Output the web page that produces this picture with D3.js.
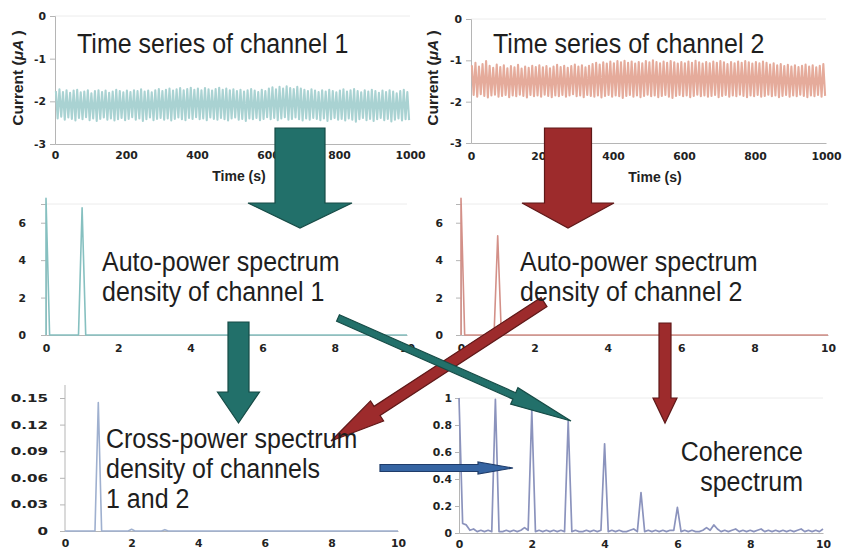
<!DOCTYPE html>
<html>
<head>
<meta charset="utf-8">
<script src="https://cdn.jsdelivr.net/npm/d3@7"></script>
<style>
  html, body { margin: 0; padding: 0; background: #fff; }
  svg { display: block; }
</style>
</head>
<body>
<svg id="fig" width="843" height="552"></svg>
<script>
// ---- Data -------------------------------------------------------------
// Time series: alternating crest / trough current values (µA), one pair per 10 s.
const ch1Top = [-1.76,-1.72,-1.78,-1.74,-1.80,-1.75,-1.73,-1.79,-1.77,-1.74,
  -1.81,-1.76,-1.74,-1.78,-1.75,-1.80,-1.77,-1.73,-1.76,-1.79,
  -1.75,-1.78,-1.74,-1.76,-1.72,-1.77,-1.75,-1.79,-1.74,-1.71,
  -1.76,-1.73,-1.70,-1.75,-1.72,-1.69,-1.74,-1.71,-1.68,-1.73,
  -1.70,-1.74,-1.69,-1.72,-1.75,-1.71,-1.68,-1.73,-1.70,-1.74,
  -1.72,-1.76,-1.73,-1.77,-1.74,-1.71,-1.75,-1.78,-1.73,-1.76,
  -1.70,-1.67,-1.72,-1.66,-1.70,-1.65,-1.69,-1.71,-1.66,-1.70,
  -1.73,-1.76,-1.72,-1.75,-1.78,-1.74,-1.77,-1.73,-1.76,-1.79,
  -1.75,-1.72,-1.77,-1.74,-1.71,-1.76,-1.79,-1.74,-1.77,-1.73,
  -1.76,-1.80,-1.75,-1.78,-1.74,-1.77,-1.81,-1.76,-1.73,-1.78];
const ch1Bot = [-2.40,-2.36,-2.43,-2.38,-2.41,-2.45,-2.39,-2.42,-2.37,-2.44,
  -2.40,-2.46,-2.41,-2.38,-2.43,-2.40,-2.45,-2.42,-2.39,-2.44,
  -2.41,-2.37,-2.43,-2.40,-2.46,-2.42,-2.38,-2.44,-2.41,-2.39,
  -2.43,-2.40,-2.45,-2.41,-2.38,-2.42,-2.44,-2.39,-2.41,-2.37,
  -2.42,-2.40,-2.44,-2.38,-2.41,-2.43,-2.39,-2.42,-2.45,-2.40,
  -2.38,-2.43,-2.41,-2.46,-2.40,-2.42,-2.39,-2.44,-2.41,-2.37,
  -2.42,-2.39,-2.44,-2.40,-2.37,-2.43,-2.41,-2.38,-2.42,-2.45,
  -2.40,-2.43,-2.39,-2.41,-2.44,-2.40,-2.46,-2.42,-2.39,-2.43,
  -2.41,-2.45,-2.40,-2.43,-2.48,-2.42,-2.39,-2.44,-2.41,-2.46,
  -2.42,-2.39,-2.44,-2.41,-2.47,-2.43,-2.40,-2.45,-2.42,-2.44];
const ch2Top = [-1.12,-1.06,-1.15,-1.09,-1.02,-1.13,-1.18,-1.10,-1.16,-1.12,
  -1.19,-1.14,-1.17,-1.11,-1.20,-1.15,-1.18,-1.13,-1.16,-1.12,
  -1.17,-1.14,-1.19,-1.15,-1.11,-1.16,-1.13,-1.18,-1.14,-1.10,
  -1.15,-1.12,-1.17,-1.13,-1.09,-1.06,-1.10,-1.05,-1.08,-1.03,
  -1.07,-1.02,-1.05,-1.01,-1.06,-1.03,-1.08,-1.04,-1.07,-1.02,
  -1.05,-1.00,-1.04,-1.07,-1.03,-1.06,-1.02,-1.05,-1.08,-1.04,
  -1.07,-1.03,-1.06,-1.01,-1.05,-1.08,-1.04,-1.07,-1.03,-1.06,
  -1.02,-1.05,-1.09,-1.04,-1.07,-1.03,-1.06,-1.02,-1.05,-1.08,
  -1.04,-1.07,-1.03,-1.06,-1.10,-1.07,-1.12,-1.09,-1.14,-1.11,
  -1.15,-1.12,-1.16,-1.13,-1.10,-1.15,-1.12,-1.17,-1.13,-1.09];
const ch2Bot = [-1.84,-1.88,-1.82,-1.86,-1.90,-1.85,-1.83,-1.88,-1.86,-1.84,
  -1.89,-1.85,-1.87,-1.83,-1.86,-1.90,-1.84,-1.87,-1.85,-1.88,
  -1.83,-1.86,-1.89,-1.85,-1.87,-1.84,-1.88,-1.85,-1.82,-1.87,
  -1.85,-1.89,-1.84,-1.86,-1.88,-1.85,-1.90,-1.86,-1.84,-1.88,
  -1.85,-1.87,-1.91,-1.86,-1.84,-1.88,-1.85,-1.89,-1.86,-1.83,
  -1.87,-1.85,-1.89,-1.86,-1.84,-1.88,-1.91,-1.86,-1.84,-1.87,
  -1.85,-1.89,-1.86,-1.83,-1.87,-1.85,-1.88,-1.86,-1.84,-1.89,
  -1.86,-1.84,-1.88,-1.85,-1.87,-1.83,-1.86,-1.89,-1.85,-1.87,
  -1.84,-1.88,-1.86,-1.83,-1.87,-1.85,-1.89,-1.86,-1.84,-1.88,
  -1.85,-1.87,-1.83,-1.86,-1.89,-1.85,-1.87,-1.84,-1.88,-1.86];

// Auto-power spectra (breakpoints: frequency in Hz, density)
const psd1Freq = [0, 0, 0.1, 0.9, 1.0, 1.1, 10];
const psd1Val  = [0, 7.3, 0, 0, 6.8, 0, 0];
const psd2Freq = [0, 0, 0.1, 0.9, 1.0, 1.1, 10];
const psd2Val  = [0, 7.3, 0, 0, 5.3, 0, 0];

// Cross-power spectrum (breakpoints)
const cpsdFreq = [0, 0.9, 1.0, 1.1, 1.9, 2.0, 2.1, 2.9, 3.0, 3.1, 10];
const cpsdVal  = [0, 0, 0.145, 0, 0, 0.002, 0, 0, 0.0015, 0, 0];

// Coherence, sampled every 0.1 Hz from 0 to 10 Hz
const cohVal = [1.00,0.07,0.06,0.02,0.03,0.01,0.02,0.01,0.02,0.01,
  0.99,0.01,0.01,0.02,0.01,0.02,0.01,0.02,0.04,0.02,
  0.91,0.01,0.02,0.01,0.02,0.01,0.02,0.01,0.02,0.01,
  0.83,0.01,0.02,0.01,0.01,0.02,0.01,0.02,0.01,0.02,
  0.66,0.01,0.02,0.01,0.02,0.01,0.01,0.02,0.03,0.01,
  0.30,0.01,0.02,0.01,0.02,0.01,0.02,0.01,0.02,0.02,
  0.19,0.01,0.02,0.01,0.02,0.01,0.01,0.02,0.04,0.02,
  0.06,0.03,0.01,0.02,0.01,0.02,0.03,0.01,0.02,0.01,
  0.02,0.01,0.02,0.03,0.01,0.02,0.01,0.02,0.01,0.02,
  0.01,0.02,0.01,0.02,0.03,0.01,0.02,0.01,0.02,0.01,0.03];

// Tick values
const timeTicks = [0, 200, 400, 600, 800, 1000];
const currentTicks = [0, -1, -2, -3];
const freqTicks = [0, 2, 4, 6, 8, 10];
const psdTicks = [0, 2, 4, 6];
const cpsdTicks = [0, 0.03, 0.06, 0.09, 0.12, 0.15];
const cohTicks = [0, 0.2, 0.4, 0.6, 0.8, 1];

// ---- Drawing ----------------------------------------------------------
const svg = d3.select("#fig");
const TITLE_FONT = "'Liberation Sans', Arial, Helvetica, sans-serif";
const TICK_FONT = "'DejaVu Sans', Verdana, sans-serif";
const AXIS_FONT = "'Liberation Sans', Arial, sans-serif";

function styleAxis(g) {
  g.select(".domain").attr("stroke", "#b5b5b5").attr("stroke-width", 1);
  g.selectAll(".tick line").attr("stroke", "#b5b5b5");
  g.selectAll(".tick text")
    .attr("font-family", TICK_FONT).attr("font-weight", "bold")
    .attr("font-size", 10.8).attr("fill", "#222");
}

function panel(cfg) {
  const g = svg.append("g");
  const x = d3.scaleLinear().domain(cfg.xDomain).range(cfg.xRange);
  const y = d3.scaleLinear().domain(cfg.yDomain).range(cfg.yRange);
  // faint top gridline
  if (cfg.grid != null) {
    g.append("line").attr("x1", cfg.xRange[0]).attr("x2", cfg.xRange[1])
      .attr("y1", y(cfg.grid)).attr("y2", y(cfg.grid))
      .attr("stroke", "#ececec").attr("stroke-width", 1);
  }
  const ya = g.append("g").attr("transform", `translate(${cfg.xRange[0]},0)`)
    .call(d3.axisLeft(y).tickValues(cfg.yTicks).tickSize(cfg.yTickSize || 5)
      .tickPadding(cfg.yPad || 3).tickFormat(cfg.yFmt || (d => String(d))));
  styleAxis(ya);
  if (cfg.yTop != null) ya.select(".domain").attr("d", `M0,${cfg.yRange[0]}V${cfg.yTop}`);
  if (cfg.yStretch) {
    ya.selectAll(".tick text").each(function () {
      const w = this.getComputedTextLength();
      d3.select(this).attr("textLength", w * cfg.yStretch).attr("lengthAdjust", "spacingAndGlyphs");
    });
  }
  const xa = g.append("g").attr("transform", `translate(0,${cfg.yRange[0]})`)
    .call(d3.axisBottom(x).tickValues(cfg.xTicks).tickSize(cfg.xTickSize || 0)
      .tickPadding(cfg.xPad || 8).tickFormat(d => String(d)));
  styleAxis(xa);
  return { g, x, y };
}

// Top-left: time series of channel 1
const p1 = panel({ xDomain: [0, 1000], xRange: [55, 410], yDomain: [-3, 0], yRange: [144, 16],
  yTicks: currentTicks, xTicks: timeTicks, grid: 0, xPad: 7, yPad: 4 });
// Top-right: time series of channel 2
const p2 = panel({ xDomain: [0, 1000], xRange: [471, 826], yDomain: [-3, 0], yRange: [143, 19],
  yTicks: currentTicks, xTicks: timeTicks, grid: 0, xPad: 9, yPad: 4 });
// Middle-left / middle-right: auto-power spectra
const p3 = panel({ xDomain: [0, 10], xRange: [46, 407], yDomain: [0, 7], yRange: [335, 204],
  yTicks: psdTicks, xTicks: freqTicks, grid: 7, yPad: 15, xPad: 9 });
const p4 = panel({ xDomain: [0, 10], xRange: [461, 828], yDomain: [0, 7], yRange: [335, 204],
  yTicks: psdTicks, xTicks: freqTicks, grid: 7, yPad: 13, xPad: 9 });
// Bottom-left: cross-power spectrum
const p5 = panel({ xDomain: [0, 10], xRange: [65, 398], yDomain: [0, 0.15], yRange: [531, 398],
  yTicks: cpsdTicks, xTicks: freqTicks, grid: null, yTop: 385, yPad: 12, xPad: 8, yStretch: 1.4,
  yFmt: d => d === 0 ? "0" : d3.format(".2f")(d) });
// Bottom-right: coherence
const p6 = panel({ xDomain: [0, 10], xRange: [459, 823], yDomain: [0, 1], yRange: [533, 398],
  yTicks: cohTicks, xTicks: freqTicks, grid: 1, yTickSize: 4, yPad: 3, xPad: 7,
  yFmt: d => d === 0 ? "0" : (d === 1 ? "1" : d3.format(".1f")(d)) });

// Time-series traces: crest then trough in each 10 s step
function zigzag(tops, bots) {
  const pts = [];
  tops.forEach((v, i) => {
    pts.push([i * 10 + 2.5, v]);
    pts.push([i * 10 + 7.5, bots[i]]);
  });
  return pts;
}
function drawLine(p, pts, color, w) {
  p.g.append("path").datum(pts)
    .attr("fill", "none").attr("stroke", color).attr("stroke-width", w)
    .attr("stroke-linejoin", "round")
    .attr("d", d3.line().x(d => p.x(d[0])).y(d => p.y(d[1])));
}
drawLine(p1, zigzag(ch1Top, ch1Bot), "#a9d2d2", 2.1);
drawLine(p2, zigzag(ch2Top, ch2Bot), "#e5ab9b", 2.1);

drawLine(p3, psd1Freq.map((f, i) => [f, psd1Val[i]]), "#86c0c0", 1.6);
drawLine(p4, psd2Freq.map((f, i) => [f, psd2Val[i]]), "#d39088", 1.6);
drawLine(p5, cpsdFreq.map((f, i) => [f, cpsdVal[i]]), "#9fb0cf", 1.6);
drawLine(p6, cohVal.map((v, i) => [i / 10, v]), "#8b93bd", 1.7);

// Axis titles for the time-series panels
function axisTitles(xLabelX, xLabelY, yLabelX, yLabelY) {
  svg.append("text").attr("x", xLabelX).attr("y", xLabelY)
    .attr("text-anchor", "middle").attr("font-family", AXIS_FONT)
    .attr("font-weight", "bold").attr("font-size", 14).attr("fill", "#222")
    .text("Time (s)");
  const t = svg.append("text")
    .attr("transform", `translate(${yLabelX},${yLabelY}) rotate(-90)`)
    .attr("text-anchor", "middle").attr("font-family", AXIS_FONT)
    .attr("font-weight", "bold").attr("font-size", 15.5).attr("fill", "#222");
  t.append("tspan").text("Current (");
  t.append("tspan").attr("font-style", "italic").text("\u03bcA");
  t.append("tspan").text(" )");
}
axisTitles(239, 181, 23, 78);
axisTitles(655, 182, 438, 78);

// ---- Arrows -----------------------------------------------------------
function arrowPoints(x1, y1, x2, y2, sw, hl, hw) {
  const dx = x2 - x1, dy = y2 - y1, L = Math.hypot(dx, dy);
  const ux = dx / L, uy = dy / L, nx = -uy, ny = ux;
  const bx = x2 - ux * hl, by = y2 - uy * hl;
  return [
    [x1 + nx * sw / 2, y1 + ny * sw / 2], [bx + nx * sw / 2, by + ny * sw / 2],
    [bx + nx * hw, by + ny * hw], [x2, y2], [bx - nx * hw, by - ny * hw],
    [bx - nx * sw / 2, by - ny * sw / 2], [x1 - nx * sw / 2, y1 - ny * sw / 2]
  ];
}
const TEAL = { fill: "#22706a", stroke: "#164b46" };
const RED = { fill: "#9d2b2c", stroke: "#5f1818" };
const BLUE = { fill: "#3564a2", stroke: "#1f3c6a" };
const arrows = [
  { a: [300, 128, 300, 228, 50, 25, 52], c: TEAL },
  { a: [568, 128, 568, 228, 47, 25, 46], c: RED },
  { a: [238.5, 322, 238.5, 423, 21, 31, 21], c: TEAL },
  { a: [665, 323, 665, 423, 12, 25, 12], c: RED },
  { a: [544, 302, 331, 441, 11, 55, 12], c: RED },
  { a: [338, 318, 571, 421, 7, 62, 9], c: TEAL },
  { a: [380, 468, 513, 468, 7, 35, 6], c: BLUE }
];
arrows.forEach(d => {
  svg.append("polygon")
    .attr("points", arrowPoints(...d.a).map(p => p.join(",")).join(" "))
    .attr("fill", d.c.fill).attr("stroke", d.c.stroke).attr("stroke-width", 1.2)
    .attr("stroke-linejoin", "miter");
});

// ---- Panel captions -----------------------------------------------------
const captions = [
  { x: 77, y: 53, lines: ["Time series of channel 1"], anchor: "start" },
  { x: 493, y: 53, lines: ["Time series of channel 2"], anchor: "start" },
  { x: 102, y: 271, lines: ["Auto-power spectrum", "density of channel 1"], anchor: "start" },
  { x: 520, y: 271, lines: ["Auto-power spectrum", "density of channel 2"], anchor: "start" },
  { x: 106, y: 448, lines: ["Cross-power spectrum", "density of channels", "1 and 2"], anchor: "start" },
  { x: 803, y: 461, lines: ["Coherence", "spectrum"], anchor: "end" }
];
captions.forEach(c => {
  c.lines.forEach((line, i) => {
    svg.append("text")
      .attr("transform", `translate(${c.x},${c.y + i * 30}) scale(1,1.12)`)
      .attr("text-anchor", c.anchor)
      .attr("font-family", TITLE_FONT).attr("font-size", 25).attr("fill", "#1e1e1e")
      .text(line);
  });
});
</script>
</body>
</html>
